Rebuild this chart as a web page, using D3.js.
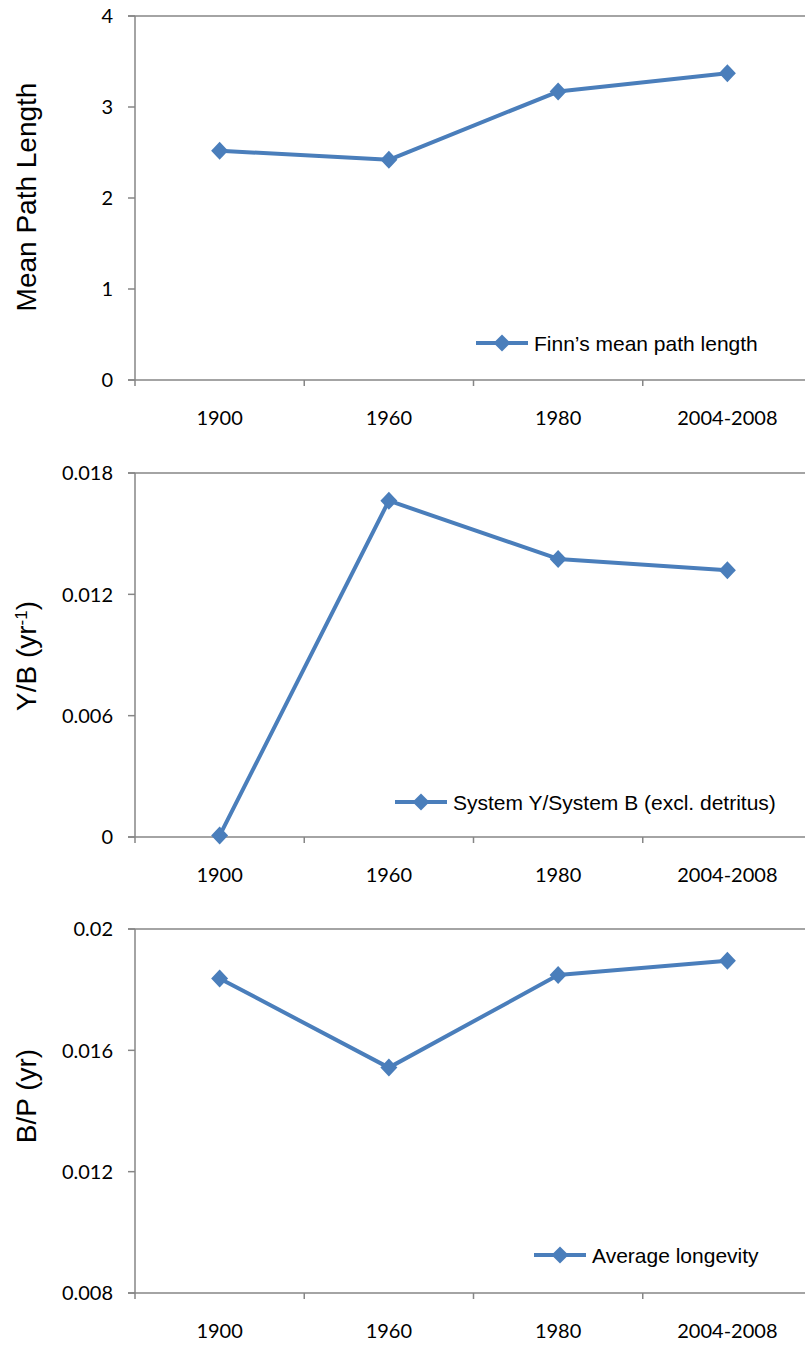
<!DOCTYPE html>
<html>
<head>
<meta charset="utf-8">
<script src="https://cdn.jsdelivr.net/npm/d3@7"></script>
<style>
  html, body { margin: 0; padding: 0; background: #fff; }
  svg { display: block; }
  .tick-label { font-family: Lato, "Open Sans", sans-serif; font-size: 20px; fill: #000; }
  .legend-label { font-family: "Liberation Sans", Arial, sans-serif; font-size: 21px; fill: #000; }
  .axis-title { font-family: "Liberation Sans", Arial, sans-serif; font-size: 28px; fill: #000; }
</style>
</head>
<body>
<svg id="chart" width="805" height="1347"></svg>
<script>
// Time periods shared by all three panels
const categories = ["1900", "1960", "1980", "2004-2008"];

// Finn's mean path length
const meanPathLength = [2.52, 2.42, 3.17, 3.37];
const meanPathTicks = [0, 1, 2, 3, 4];

// System yield / system biomass (excluding detritus), per year
const yieldOverBiomass = [0.00007, 0.01663, 0.01375, 0.01319];
const yieldTicks = [0, 0.006, 0.012, 0.018];

// Biomass / production (average longevity), years
const longevity = [0.01837, 0.01543, 0.01848, 0.01895];
const longevityTicks = [0.008, 0.012, 0.016, 0.02];

const LINE = "#4a7ebb";
const AXIS = "#868686";

const panels = [
  { values: meanPathLength, ticks: meanPathTicks, fmt: d => String(d),
    top: 16, bottom: 380, title: ["Mean Path Length"], titleY: 197,
    legend: "Finn\u2019s mean path length", legendX: 476, legendY: 343 },
  { values: yieldOverBiomass, ticks: yieldTicks, fmt: d => String(d),
    top: 473, bottom: 837, title: ["Y/B (yr", "-1", ")"], titleY: 656,
    legend: "System Y/System B (excl. detritus)", legendX: 395, legendY: 802 },
  { values: longevity, ticks: longevityTicks, fmt: d => String(d),
    top: 929, bottom: 1293, title: ["B/P (yr)"], titleY: 1096,
    legend: "Average longevity", legendX: 534, legendY: 1255 }
];

const svg = d3.select("#chart");
const left = 135, right = 812;

const xBand = d3.scaleBand().domain(categories).range([left, right]);
const x = d => xBand(d) + xBand.bandwidth() / 2;

// Diamond marker path centred at the origin
const diamond = (w, h) => `M0,${-h}L${w},0L0,${h}L${-w},0Z`;

panels.forEach(p => {
  const dom = d3.extent(p.ticks);
  const y = d3.scaleLinear().domain(dom).range([p.bottom, p.top]);
  const g = svg.append("g");

  // plot frame (top edge + left axis + bottom axis)
  g.append("line").attr("x1", left - 7).attr("x2", right).attr("y1", p.top).attr("y2", p.top)
    .attr("stroke", AXIS).attr("stroke-width", 1.5);
  g.append("line").attr("x1", left).attr("x2", left).attr("y1", p.top).attr("y2", p.bottom + 6)
    .attr("stroke", AXIS).attr("stroke-width", 1.5);
  g.append("line").attr("x1", left - 7).attr("x2", right).attr("y1", p.bottom).attr("y2", p.bottom)
    .attr("stroke", AXIS).attr("stroke-width", 1.5);

  // y ticks and labels
  p.ticks.forEach(t => {
    g.append("line").attr("x1", left - 7).attr("x2", left).attr("y1", y(t)).attr("y2", y(t))
      .attr("stroke", AXIS).attr("stroke-width", 1.5);
    g.append("text").attr("class", "tick-label")
      .attr("x", left - 22).attr("y", y(t)).attr("dy", "0.36em")
      .attr("text-anchor", "end").text(p.fmt(t));
  });

  // x ticks at category boundaries
  categories.forEach((c, i) => {
    const bx = xBand(c);
    if (i > 0) {
      g.append("line").attr("x1", bx).attr("x2", bx).attr("y1", p.bottom).attr("y2", p.bottom + 6)
        .attr("stroke", AXIS).attr("stroke-width", 1.5);
    }
    g.append("text").attr("class", "tick-label")
      .attr("x", x(c)).attr("y", p.bottom + 45)
      .attr("text-anchor", "middle").text(c);
  });

  // series line
  const line = d3.line().x((d, i) => x(categories[i])).y(d => y(d));
  g.append("path").datum(p.values).attr("d", line)
    .attr("fill", "none").attr("stroke", LINE).attr("stroke-width", 4)
    .attr("stroke-linejoin", "round");

  g.selectAll("path.marker").data(p.values).enter().append("path")
    .attr("class", "marker")
    .attr("transform", (d, i) => `translate(${x(categories[i])},${y(d)})`)
    .attr("d", diamond(8.5, 9)).attr("fill", LINE);

  // legend
  const lg = g.append("g").attr("transform", `translate(${p.legendX},${p.legendY})`);
  lg.append("line").attr("x1", 0).attr("x2", 52).attr("y1", 0).attr("y2", 0)
    .attr("stroke", LINE).attr("stroke-width", 4);
  lg.append("path").attr("transform", "translate(26,0)").attr("d", diamond(8.5, 8.5)).attr("fill", LINE);
  lg.append("text").attr("class", "legend-label").attr("x", 58).attr("y", 7.5).text(p.legend);

  // y-axis title
  const tt = g.append("text").attr("class", "axis-title")
    .attr("transform", `translate(36,${p.titleY}) rotate(-90)`)
    .attr("text-anchor", "middle");
  p.title.forEach((part, i) => {
    const ts = tt.append("tspan").text(part);
    if (p.title.length === 3 && i === 1) ts.attr("dy", "-0.55em").attr("font-size", "17px");
    if (p.title.length === 3 && i === 2) ts.attr("dy", "9.5px");
  });
});
</script>
</body>
</html>
